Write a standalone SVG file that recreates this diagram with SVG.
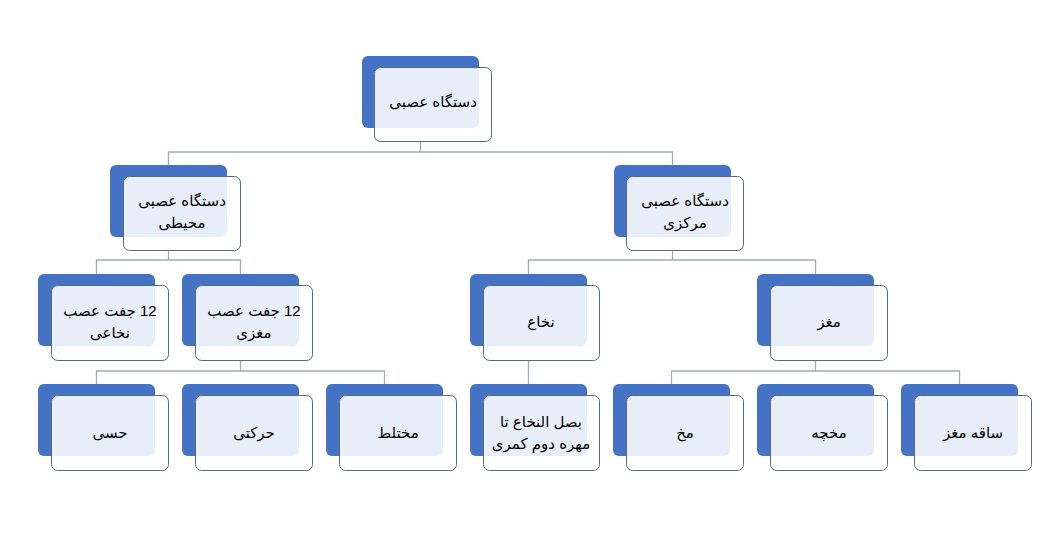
<svg xmlns="http://www.w3.org/2000/svg" width="1057" height="554" viewBox="0 0 1057 554">
<style>
.back{fill:#4472c4;}
.front{fill:#ffffff;fill-opacity:0.88;stroke:#5b6787;stroke-width:1;}
.conn{fill:none;stroke:#a3a8bd;stroke-width:1.3;}
text{font-family:"Liberation Sans","DejaVu Sans",Arial,sans-serif;font-size:15px;fill:#000;text-anchor:middle;}
</style>
<rect width="1057" height="554" fill="#ffffff"/>
<g id="connectors">
<path class="conn" d="M420.5 142 V152 M168.5 165 V152 H672.5 V165"/>
<path class="conn" d="M168.5 251 V260 M96.5 274 V260 H240.5 V274"/>
<path class="conn" d="M672.5 251 V260 M528.5 274 V260 H815.5 V274"/>
<path class="conn" d="M240.5 360 V371 M96.5 384 V371 H384.5 V384"/>
<path class="conn" d="M528.5 360 V384"/>
<path class="conn" d="M815.5 360 V371 M671.5 384 V371 H959.5 V384"/>
</g>
<g id="root">
<rect class="back" x="362" y="56" width="117" height="72" rx="6"/>
<rect class="front" x="374.5" y="67.5" width="117" height="74" rx="6"/>
<text x="433" y="107" direction="rtl">دستگاه عصبی</text>
</g>
<g id="peripheral">
<rect class="back" x="110" y="165" width="117" height="72" rx="6"/>
<rect class="front" x="123.5" y="176.5" width="117" height="74" rx="6"/>
<text x="182" y="206" direction="rtl">دستگاه عصبی</text>
<text x="182" y="228" direction="rtl">محیطی</text>
</g>
<g id="central">
<rect class="back" x="614" y="165" width="117" height="72" rx="6"/>
<rect class="front" x="626.5" y="176.5" width="117" height="74" rx="6"/>
<text x="685" y="206" direction="rtl">دستگاه عصبی</text>
<text x="685" y="228" direction="rtl">مرکزی</text>
</g>
<g id="spinal-nerves">
<rect class="back" x="38" y="274" width="117" height="72" rx="6"/>
<rect class="front" x="51.5" y="285.5" width="117" height="75" rx="6"/>
<text x="110" y="316" direction="rtl">12 جفت عصب</text>
<text x="110" y="338" direction="rtl">نخاعی</text>
</g>
<g id="cranial-nerves">
<rect class="back" x="182" y="274" width="117" height="72" rx="6"/>
<rect class="front" x="195.5" y="285.5" width="117" height="75" rx="6"/>
<text x="254" y="316" direction="rtl">12 جفت عصب</text>
<text x="254" y="338" direction="rtl">مغزی</text>
</g>
<g id="spinal-cord">
<rect class="back" x="470" y="274" width="117" height="72" rx="6"/>
<rect class="front" x="483.5" y="285.5" width="116" height="75" rx="6"/>
<text x="541" y="327" direction="rtl">نخاع</text>
</g>
<g id="brain">
<rect class="back" x="757" y="274" width="117" height="72" rx="6"/>
<rect class="front" x="770.5" y="285.5" width="117" height="75" rx="6"/>
<text x="829" y="327" direction="rtl">مغز</text>
</g>
<g id="sensory">
<rect class="back" x="38" y="384" width="117" height="72" rx="6"/>
<rect class="front" x="51.5" y="395.5" width="117" height="75" rx="6"/>
<text x="110" y="438" direction="rtl">حسی</text>
</g>
<g id="motor">
<rect class="back" x="182" y="384" width="117" height="72" rx="6"/>
<rect class="front" x="195.5" y="395.5" width="117" height="75" rx="6"/>
<text x="254" y="438" direction="rtl">حرکتی</text>
</g>
<g id="mixed">
<rect class="back" x="326" y="384" width="117" height="72" rx="6"/>
<rect class="front" x="339.5" y="395.5" width="117" height="75" rx="6"/>
<text x="398" y="438" direction="rtl">مختلط</text>
</g>
<g id="medulla">
<rect class="back" x="470" y="384" width="117" height="72" rx="6"/>
<rect class="front" x="483.5" y="395.5" width="116" height="75" rx="6"/>
<text x="541" y="427" direction="rtl">بصل النخاع تا</text>
<text x="541" y="449" direction="rtl">مهره دوم کمری</text>
</g>
<g id="cerebrum">
<rect class="back" x="613" y="384" width="117" height="72" rx="6"/>
<rect class="front" x="626.5" y="395.5" width="117" height="75" rx="6"/>
<text x="685" y="438" direction="rtl">مخ</text>
</g>
<g id="cerebellum">
<rect class="back" x="757" y="384" width="117" height="72" rx="6"/>
<rect class="front" x="770.5" y="395.5" width="117" height="75" rx="6"/>
<text x="829" y="438" direction="rtl">مخچه</text>
</g>
<g id="brainstem">
<rect class="back" x="901" y="384" width="117" height="72" rx="6"/>
<rect class="front" x="914.5" y="395.5" width="117" height="75" rx="6"/>
<text x="973" y="438" direction="rtl">ساقه مغز</text>
</g>
</svg>
